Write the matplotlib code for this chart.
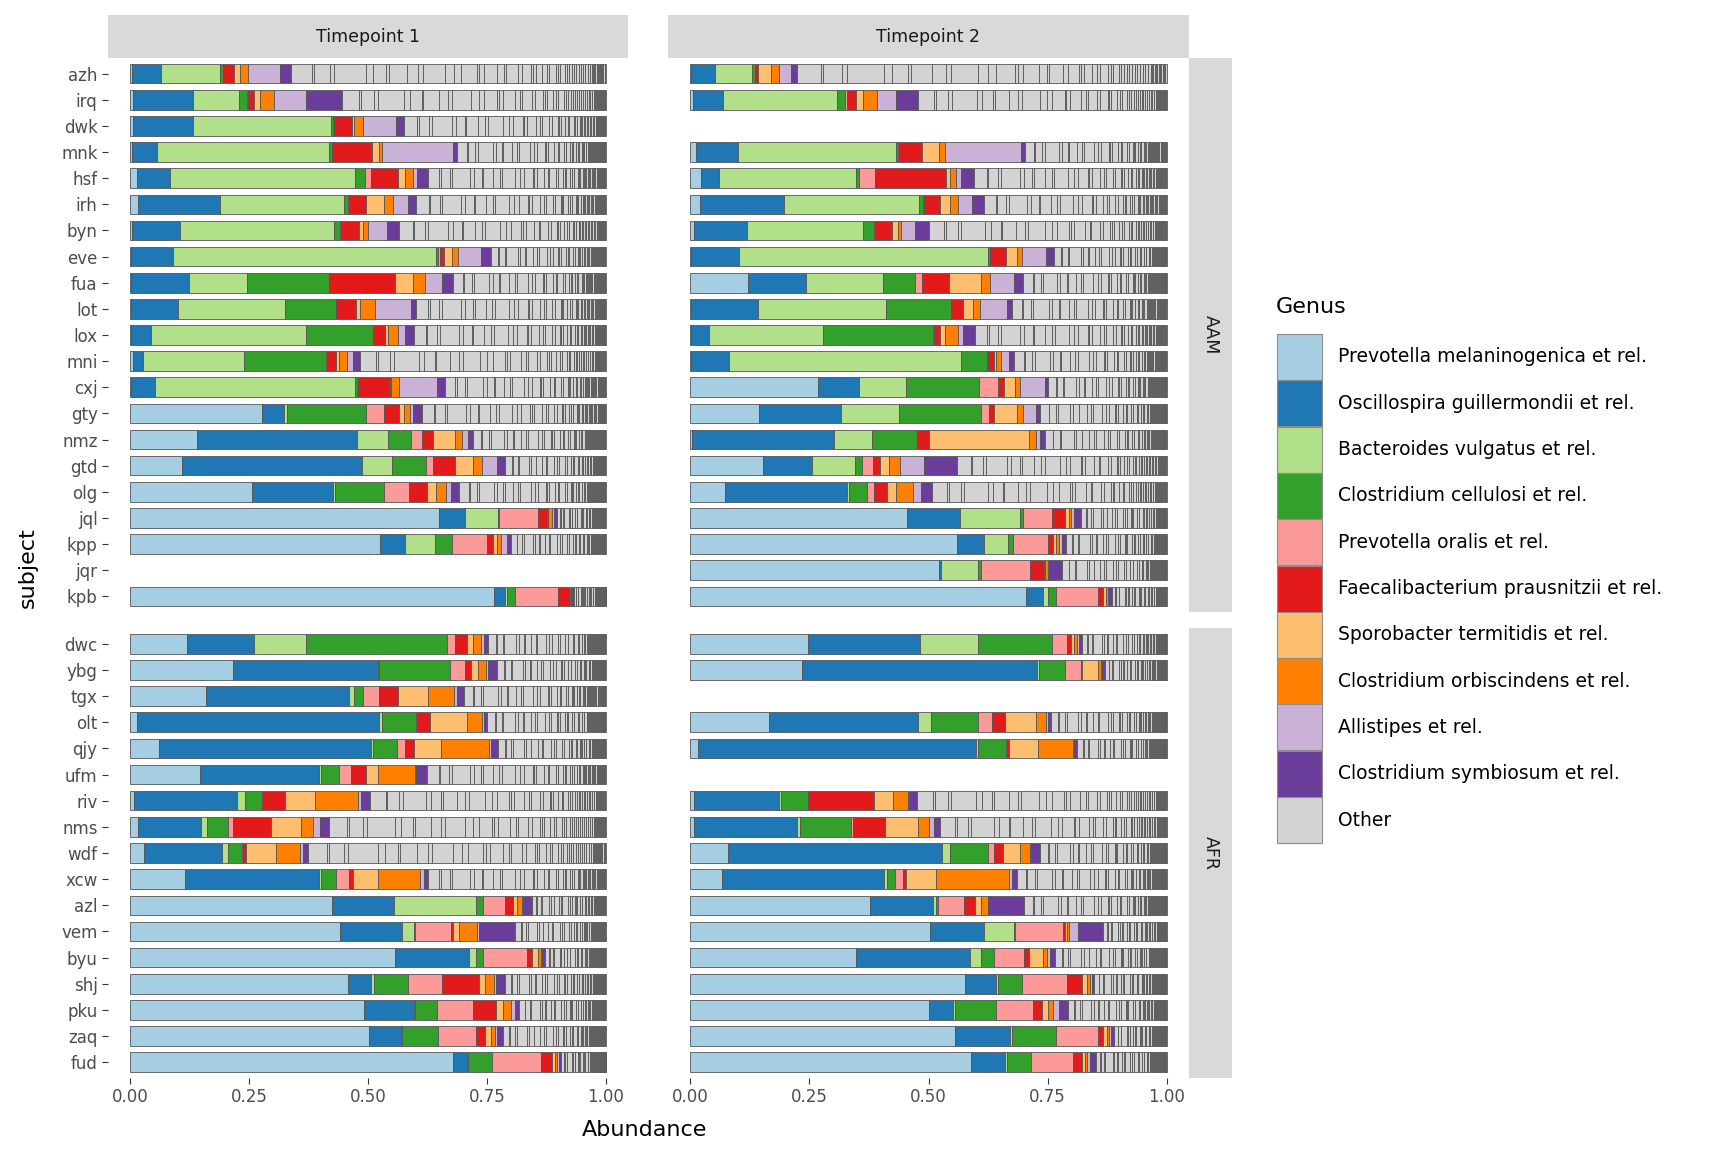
import numpy as np
import matplotlib
matplotlib.use("Agg")
import matplotlib.pyplot as plt
from matplotlib.patches import Rectangle

genera = ["Prevotella melaninogenica et rel.", "Oscillospira guillermondii et rel.",
          "Bacteroides vulgatus et rel.", "Clostridium cellulosi et rel.",
          "Prevotella oralis et rel.", "Faecalibacterium prausnitzii et rel.",
          "Sporobacter termitidis et rel.", "Clostridium orbiscindens et rel.",
          "Allistipes et rel.", "Clostridium symbiosum et rel.", "Other"]
colors = ["#A6CEE3", "#1F78B4", "#B2DF8A", "#33A02C", "#FB9A99", "#E31A1C",
          "#FDBF6F", "#FF7F00", "#CAB2D6", "#6A3D9A", "#D3D3D3"]

aam = ["azh", "irq", "dwk", "mnk", "hsf", "irh", "byn", "eve", "fua", "lot", "lox",
       "mni", "cxj", "gty", "nmz", "gtd", "olg", "jql", "kpp", "jqr", "kpb"]
afr = ["dwc", "ybg", "tgx", "olt", "qjy", "ufm", "riv", "nms", "wdf", "xcw", "azl",
       "vem", "byu", "shj", "pku", "zaq", "fud"]

# cumulative abundance at the end of each of the 10 named genera
t1_cum = {
    "azh": [.004, .064, .189, .194, .195, .219, .231, .247, .315, .339],
    "irq": [.006, .131, .229, .245, .247, .261, .273, .303, .370, .445],
    "dwk": [.006, .131, .422, .427, .428, .466, .471, .489, .559, .576],
    "mnk": [.004, .057, .418, .424, .425, .509, .523, .530, .678, .688],
    "hsf": [.014, .083, .472, .494, .506, .564, .577, .594, .604, .626],
    "irh": [.017, .189, .450, .458, .461, .495, .534, .552, .584, .602],
    "byn": [.003, .104, .429, .441, .443, .481, .490, .501, .540, .566],
    "eve": [.001, .089, .643, .647, .651, .659, .676, .690, .738, .758],
    "fua": [.001, .123, .245, .417, .417, .557, .594, .619, .655, .679],
    "lot": [.001, .100, .326, .432, .433, .475, .484, .514, .590, .601],
    "lox": [.001, .043, .370, .510, .511, .536, .542, .564, .577, .596],
    "mni": [.006, .026, .240, .411, .414, .432, .438, .455, .469, .484],
    "cxj": [.001, .051, .473, .477, .478, .546, .549, .566, .645, .662],
    "gty": [.278, .323, .329, .495, .533, .566, .576, .588, .595, .614],
    "nmz": [.141, .476, .542, .590, .614, .637, .683, .697, .711, .720],
    "gtd": [.109, .487, .551, .623, .637, .684, .720, .740, .772, .789],
    "olg": [.257, .426, .431, .533, .587, .624, .643, .664, .674, .692],
    "jql": [.650, .704, .774, .776, .858, .876, .879, .887, .891, .898],
    "kpp": [.526, .578, .641, .676, .750, .762, .771, .779, .792, .800],
    "kpb": [.765, .789, .793, .810, .900, .925, .927, .929, .930, .933],
    "dwc": [.120, .261, .370, .667, .684, .708, .721, .737, .743, .753],
    "ybg": [.217, .521, .523, .672, .704, .716, .732, .749, .753, .772],
    "tgx": [.160, .460, .471, .490, .523, .564, .626, .680, .687, .702],
    "olt": [.013, .523, .529, .602, .604, .631, .708, .739, .743, .751],
    "qjy": [.061, .506, .510, .562, .577, .596, .654, .755, .758, .774],
    "ufm": [.146, .396, .401, .439, .464, .496, .520, .598, .600, .625],
    "riv": [.008, .224, .241, .276, .276, .326, .389, .480, .485, .505],
    "nms": [.017, .149, .161, .206, .217, .295, .360, .385, .399, .419],
    "wdf": [.029, .192, .205, .234, .238, .244, .307, .356, .364, .373],
    "xcw": [.114, .396, .402, .432, .460, .469, .521, .610, .618, .626],
    "azl": [.425, .554, .728, .741, .788, .806, .814, .824, .827, .844],
    "vem": [.441, .571, .597, .598, .674, .678, .692, .730, .733, .810],
    "byu": [.556, .713, .727, .741, .835, .846, .858, .863, .866, .873],
    "shj": [.457, .506, .513, .585, .655, .734, .746, .765, .769, .788],
    "pku": [.492, .597, .599, .646, .720, .769, .783, .800, .809, .818],
    "zaq": [.503, .569, .571, .648, .727, .746, .758, .767, .772, .783],
    "fud": [.678, .709, .711, .760, .865, .888, .893, .897, .902, .907],
}
t2_cum = {
    "azh": [.002, .051, .129, .135, .136, .142, .170, .186, .211, .223],
    "irq": [.006, .068, .307, .325, .329, .348, .362, .391, .431, .478],
    "mnk": [.012, .101, .431, .437, .438, .487, .522, .534, .695, .703],
    "hsf": [.023, .061, .348, .355, .388, .536, .546, .557, .569, .596],
    "irh": [.020, .197, .481, .489, .491, .524, .546, .561, .591, .616],
    "byn": [.008, .118, .362, .386, .388, .424, .436, .443, .471, .501],
    "eve": [.001, .102, .625, .629, .630, .663, .686, .696, .747, .763],
    "fua": [.121, .243, .404, .471, .487, .543, .610, .630, .680, .699],
    "lot": [.002, .142, .410, .547, .548, .572, .594, .608, .665, .675],
    "lox": [.002, .040, .278, .510, .511, .524, .534, .562, .573, .597],
    "mni": [.002, .081, .569, .623, .625, .638, .642, .652, .669, .679],
    "cxj": [.267, .355, .452, .605, .645, .659, .682, .692, .744, .751],
    "gty": [.144, .316, .439, .610, .628, .637, .686, .698, .726, .735],
    "nmz": [.003, .302, .381, .476, .476, .500, .712, .726, .735, .744],
    "gtd": [.152, .256, .346, .360, .384, .398, .417, .440, .490, .560],
    "olg": [.073, .328, .333, .370, .385, .412, .432, .467, .485, .507],
    "jql": [.455, .566, .693, .699, .760, .786, .796, .800, .806, .820],
    "kpp": [.560, .617, .666, .677, .751, .761, .768, .775, .780, .788],
    "jqr": [.521, .527, .604, .610, .713, .742, .745, .751, .754, .780],
    "kpb": [.705, .740, .751, .767, .855, .867, .872, .877, .880, .885],
    "dwc": [.246, .482, .603, .760, .790, .800, .806, .812, .816, .822],
    "ybg": [.234, .728, .731, .786, .820, .822, .855, .862, .865, .870],
    "olt": [.165, .478, .505, .603, .634, .660, .726, .747, .751, .757],
    "qjy": [.016, .599, .604, .662, .665, .670, .730, .804, .806, .812],
    "riv": [.007, .187, .190, .247, .248, .386, .425, .458, .460, .476],
    "nms": [.008, .223, .230, .337, .342, .408, .477, .500, .511, .525],
    "wdf": [.079, .529, .546, .624, .637, .657, .692, .713, .716, .734],
    "xcw": [.066, .407, .413, .429, .446, .452, .515, .670, .676, .685],
    "azl": [.377, .510, .515, .520, .574, .598, .610, .624, .625, .700],
    "vem": [.504, .617, .679, .681, .783, .786, .790, .795, .813, .867],
    "byu": [.347, .587, .611, .637, .700, .710, .740, .749, .755, .765],
    "shj": [.576, .641, .646, .697, .790, .823, .832, .839, .844, .848],
    "pku": [.501, .552, .555, .641, .720, .739, .751, .762, .774, .793],
    "zaq": [.555, .671, .676, .767, .855, .867, .874, .879, .883, .890],
    "fud": [.590, .660, .664, .716, .804, .823, .828, .832, .839, .851],
}

# relative sizes of the many small "Other" taxa
other_shares = [9, 1, 7, 2, 14, 3, 6, 1, 8, 5, 2, 10, 4, 3, 7, 1, 2, 6, 3, 1, 5, 2,
                4, 1, 1, 3, 2, 1, 3, 1, 1, 2, 1, 1, 1, 1, 1, 1, 1, 1, 1, 1, 1, 1,
                .5, .5, .5, .5, .5, .5, .5, .5, .5, .5, .5, .5]

W, H = 1728, 1152
fig = plt.figure(figsize=(W / 100, H / 100), dpi=100)
fig.patch.set_facecolor("white")

px = lambda x0, y0, x1, y1: [x0 / W, 1 - y1 / H, (x1 - x0) / W, (y1 - y0) / H]
cols = [(108, 628), (668, 1189)]
rows = [(58, 612, aam, "AAM"), (628, 1078, afr, "AFR")]
data = [t1_cum, t2_cum]


def draw_bars(ax, subjects, cum):
    for i, s in enumerate(subjects):
        if s not in cum:
            continue
        ends = np.array(cum[s])
        starts = np.concatenate([[0], ends[:-1]])
        ax.barh(i, ends - starts, left=starts, height=0.75, color=colors[:10],
                edgecolor="#555555", linewidth=0.6)
        rest = 1 - ends[-1]
        sh = np.array(other_shares) / np.sum(other_shares) * rest
        left = ends[-1] + np.concatenate([[0], np.cumsum(sh)[:-1]])
        ax.barh(i, sh, left=left, height=0.75, color=colors[10],
                edgecolor="#555555", linewidth=0.6)


for c, (x0, x1) in enumerate(cols):
    for r, (y0, y1, subjects, grp) in enumerate(rows):
        ax = fig.add_axes(px(x0, y0, x1, y1))
        draw_bars(ax, subjects, data[c])
        ax.set_xlim(-0.047, 1.047)
        ax.set_ylim(len(subjects) - 0.4, -0.6)
        for sp in ax.spines.values():
            sp.set_visible(False)
        ax.set_yticks(range(len(subjects)))
        if c == 0:
            ax.set_yticklabels(subjects, fontsize=12, color="#4D4D4D")
            ax.tick_params(axis="y", length=4, color="#333333")
        else:
            ax.tick_params(axis="y", left=False, labelleft=False)
        ax.set_xticks([0, .25, .5, .75, 1])
        if r == 1:
            ax.set_xticklabels(["0.00", "0.25", "0.50", "0.75", "1.00"],
                               fontsize=12, color="#4D4D4D")
            ax.tick_params(axis="x", length=4, color="#333333")
        else:
            ax.tick_params(axis="x", bottom=False, labelbottom=False)
        if c == 1:
            st = fig.add_axes(px(1189, y0, 1232, y1))
            st.set_facecolor("#D9D9D9")
            st.set_xticks([]); st.set_yticks([])
            for sp in st.spines.values():
                sp.set_visible(False)
            st.text(0.5, 0.5, grp, rotation=-90, ha="center", va="center",
                    fontsize=12.5, color="#1A1A1A", transform=st.transAxes)
    st = fig.add_axes(px(x0, 15, x1, 58))
    st.set_facecolor("#D9D9D9")
    st.set_xticks([]); st.set_yticks([])
    for sp in st.spines.values():
        sp.set_visible(False)
    st.text(0.5, 0.5, "Timepoint %d" % (c + 1), ha="center", va="center",
            fontsize=12.5, color="#1A1A1A", transform=st.transAxes)

fig.text((108 + 628) / 2 / W + 0.16, 1 - 1130 / H, "Abundance", ha="center",
         va="center", fontsize=16)
fig.text(28 / W, 1 - 568 / H, "subject", rotation=90, ha="center", va="center",
         fontsize=16)

# legend
fig.text(1276 / W, 1 - 307 / H, "Genus", fontsize=16, va="center")
for k, (g, col) in enumerate(zip(genera, colors)):
    ytop = 334 + k * 46.3
    fig.patches.append(Rectangle((1277 / W, 1 - (ytop + 46) / H), 45 / W, 46 / H,
                                 transform=fig.transFigure, facecolor=col,
                                 edgecolor="#8C8C8C", linewidth=0.8))
    fig.text(1338 / W, 1 - (ytop + 23) / H, g, fontsize=13.5, va="center")

fig.savefig("out.png", dpi=100)
